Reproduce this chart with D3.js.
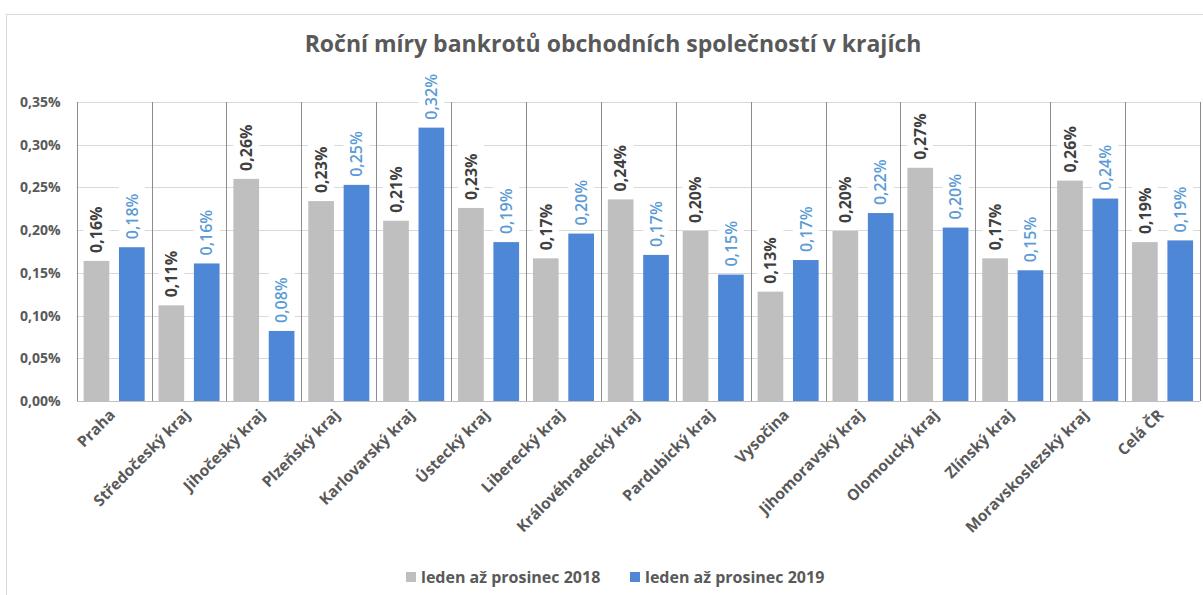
<!DOCTYPE html>
<html>
<head>
<meta charset="utf-8">
<script src="https://cdn.jsdelivr.net/npm/d3@7"></script>
<style>
  body { margin: 0; background: #fff; }
  svg { font-family: "Open Sans", Lato, sans-serif; }
</style>
</head>
<body>
<div id="graf"></div>
<script>
const kraje = ["Praha", "Středočeský kraj", "Jihočeský kraj", "Plzeňský kraj", "Karlovarský kraj",
  "Ústecký kraj", "Liberecký kraj", "Královéhradecký kraj", "Pardubický kraj", "Vysočina",
  "Jihomoravský kraj", "Olomoucký kraj", "Zlínský kraj", "Moravskoslezský kraj", "Celá ČR"];
const serie = ["leden až prosinec 2018", "leden až prosinec 2019"];
const miry2018 = [0.164, 0.112, 0.260, 0.234, 0.211, 0.226, 0.167, 0.236, 0.199, 0.128, 0.199, 0.273, 0.167, 0.258, 0.186];
const miry2019 = [0.180, 0.161, 0.082, 0.253, 0.320, 0.186, 0.196, 0.171, 0.148, 0.165, 0.220, 0.203, 0.153, 0.237, 0.188];
const ticky = [0, 0.05, 0.10, 0.15, 0.20, 0.25, 0.30, 0.35];

const barvy = ["#bfbfbf", "#4d87d5"];
const barvyPopisku = ["#404040", "#5b9bd5"];

const sirka = 1203, vyska = 595;
const margem = { top: 102, right: 3, bottom: 194, left: 76.7 };

const svg = d3.select("#graf").append("svg")
  .attr("width", sirka)
  .attr("height", vyska);

// rámeček grafu
svg.append("rect")
  .attr("x", 6.5).attr("y", 14.5)
  .attr("width", sirka).attr("height", vyska)
  .attr("fill", "none").attr("stroke", "#d9d9d9");

const dolni = vyska - margem.bottom;

const x = d3.scaleBand()
  .domain(kraje)
  .range([margem.left, sirka - margem.right]);

const xSerie = d3.scaleBand()
  .domain(serie)
  .range([0, x.bandwidth()])
  .paddingInner(0.274)
  .paddingOuter(0.196);

const y = d3.scaleLinear()
  .domain([0, 0.35])
  .range([dolni, margem.top]);

const fmt = v => d3.format(".2f")(v).replace(".", ",") + "%";

// mřížka
svg.append("g")
  .selectAll("line")
  .data(ticky)
  .join("line")
  .attr("x1", margem.left).attr("x2", sirka - margem.right)
  .attr("y1", d => Math.round(y(d)) + 0.5).attr("y2", d => Math.round(y(d)) + 0.5)
  .attr("stroke", d => d === 0 ? "#bfbfbf" : "#d9d9d9");

// osa Y
const osaY = svg.append("g")
  .attr("transform", `translate(${margem.left - 16},0)`)
  .call(d3.axisLeft(y).tickValues(ticky).tickSize(0).tickFormat(fmt));
osaY.select(".domain").remove();
osaY.selectAll("text")
  .attr("x", 0)
  .attr("fill", "#595959")
  .style("font-size", "14px")
  .style("font-weight", "bold")
  .style("font-family", "'Open Sans', sans-serif");

// svislé oddělovače krajů
const hranice = kraje.map(k => x(k)).concat([x(kraje[kraje.length - 1]) + x.bandwidth()]);
svg.append("g")
  .selectAll("line")
  .data(hranice)
  .join("line")
  .attr("x1", d => Math.round(d) + 0.5).attr("x2", d => Math.round(d) + 0.5)
  .attr("y1", margem.top).attr("y2", dolni)
  .attr("stroke", "#8c8c8c");

const data = kraje.map((k, i) => ({ kraj: k, hodnoty: [miry2018[i], miry2019[i]] }));

const skupiny = svg.append("g")
  .selectAll("g")
  .data(data)
  .join("g")
  .attr("transform", d => `translate(${x(d.kraj)},0)`);

// sloupce
skupiny.selectAll("rect")
  .data(d => d.hodnoty.map((v, j) => ({ serie: serie[j], v, j })))
  .join("rect")
  .attr("x", d => xSerie(d.serie))
  .attr("y", d => y(d.v))
  .attr("width", xSerie.bandwidth())
  .attr("height", d => dolni - y(d.v))
  .attr("fill", d => barvy[d.j]);

// popisky hodnot
const popisky = skupiny.selectAll("g.popisek")
  .data(d => d.hodnoty.map((v, j) => ({ serie: serie[j], v, j })))
  .join("g")
  .attr("class", "popisek")
  .attr("transform", d => `translate(${xSerie(d.serie) + xSerie.bandwidth() / 2},${y(d.v) - 8}) rotate(-90)`);

popisky.append("rect")
  .attr("x", -3).attr("y", -13)
  .attr("width", 58).attr("height", 26)
  .attr("fill", "#fff");

popisky.append("text")
  .attr("x", 0)
  .attr("dy", "0.36em")
  .attr("fill", d => barvyPopisku[d.j])
  .style("font-size", "16px")
  .style("font-weight", d => d.j === 0 ? 700 : 600)
  .text(d => fmt(d.v));

// osa X - popisky krajů
svg.append("g")
  .selectAll("text")
  .data(kraje)
  .join("text")
  .attr("transform", d => `translate(${x(d) + x.bandwidth() / 2 + 2},${dolni + 15}) rotate(-45)`)
  .attr("text-anchor", "end")
  .attr("fill", "#595959")
  .style("font-size", "15.5px")
  .style("font-weight", 700)
  .text(d => d);

// titulek
svg.append("text")
  .attr("x", 613)
  .attr("y", 52)
  .attr("text-anchor", "middle")
  .attr("fill", "#595959")
  .style("font-size", "23px")
  .style("font-weight", 700)
  .text("Roční míry bankrotů obchodních společností v krajích");

// legenda
const legenda = svg.append("g")
  .selectAll("g")
  .data(serie)
  .join("g")
  .attr("transform", (d, i) => `translate(${406 + i * 224},572)`);

legenda.append("rect")
  .attr("width", 10).attr("height", 10)
  .attr("fill", (d, i) => barvy[i]);

legenda.append("text")
  .attr("x", 15)
  .attr("y", 10.5)
  .attr("fill", "#595959")
  .style("font-size", "16px")
  .style("font-weight", 700)
  .text(d => d);
</script>
</body>
</html>
